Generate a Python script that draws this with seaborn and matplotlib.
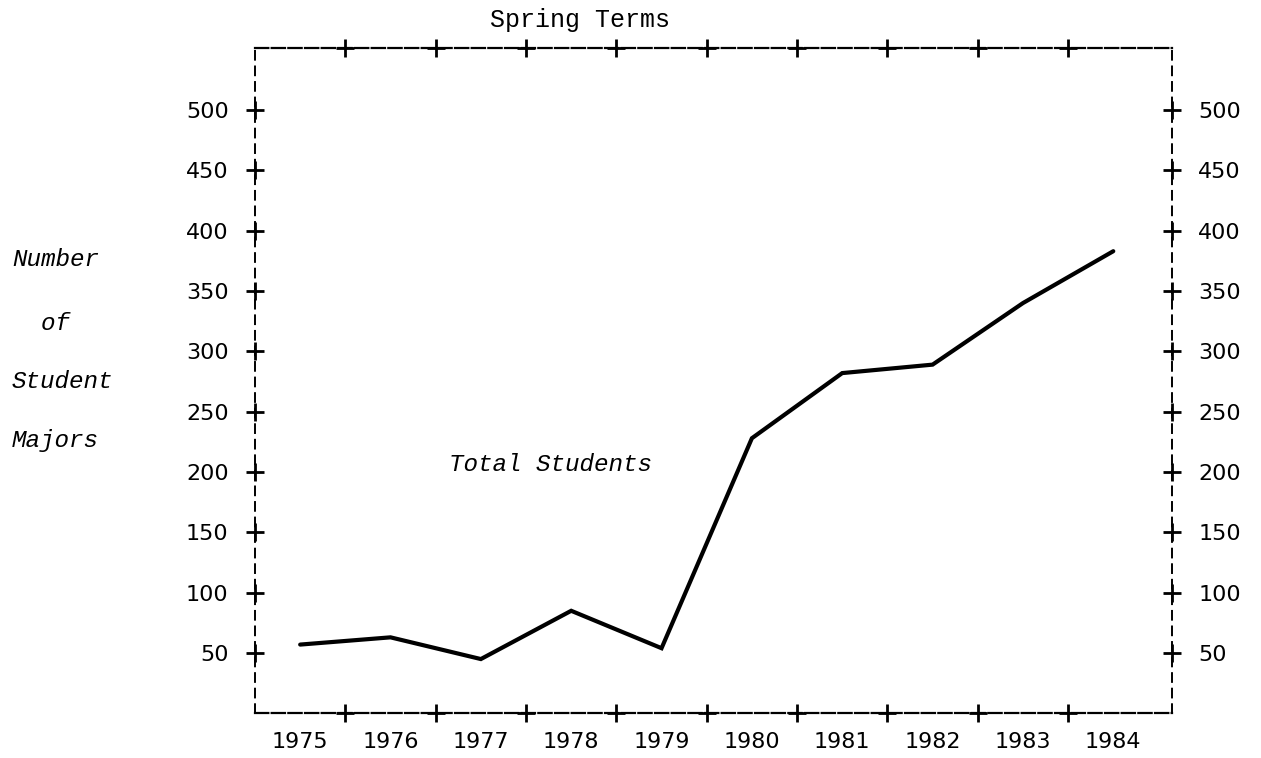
import matplotlib
matplotlib.use("Agg")
import matplotlib.pyplot as plt
import seaborn as sns
import numpy as np
import pandas as pd

# ---- data ----
years = [1975, 1976, 1977, 1978, 1979, 1980, 1981, 1982, 1983, 1984]
total_students = [57, 63, 45, 85, 54, 228, 282, 289, 340, 383]
y_ticks = [50, 100, 150, 200, 250, 300, 350, 400, 450, 500]
x_dividers = [1975.5, 1976.5, 1977.5, 1978.5, 1979.5, 1980.5, 1981.5, 1982.5, 1983.5]
title_text = "Spring Terms"
ylabel_lines = ["Number", "  of", "Student", "Majors"]
series_label = "Total Students"

sns.set_style("white")
plt.rcParams["font.family"] = ["DejaVu Sans"]
plt.rcParams["text.color"] = "black"
plt.rcParams["xtick.color"] = "black"
plt.rcParams["ytick.color"] = "black"
plt.rcParams["xtick.labelcolor"] = "black"
plt.rcParams["ytick.labelcolor"] = "black"

W, H = 1261, 758
fig = plt.figure(figsize=(W / 100, H / 100), dpi=100)
ax = fig.add_axes([255 / W, 1 - 713 / H, 917 / W, 665 / H])

df = pd.DataFrame({"year": years, "students": total_students})
sns.lineplot(data=df, x="year", y="students", ax=ax, color="black",
             linewidth=3.0, solid_joinstyle="miter")

ax.set_xlim(1974.5, 1984.65)
ax.set_ylim(0.3, 551.4)
ax.set_xlabel("")
ax.set_ylabel("")

# dashed frame
for side in ["top", "bottom"]:
    ax.spines[side].set_visible(True)
    ax.spines[side].set_linewidth(1.6)
    ax.spines[side].set_linestyle((0, (6, 1.5)))
    ax.spines[side].set_color("black")
for side in ["left", "right"]:
    ax.spines[side].set_visible(True)
    ax.spines[side].set_linewidth(1.4)
    ax.spines[side].set_linestyle((0, (4.5, 3.5)))
    ax.spines[side].set_color("black")

# ticks and labels
ax.set_xticks(years)
ax.set_xticklabels([str(y) for y in years])
ax.set_yticks(y_ticks)
ax.set_yticklabels([str(v) for v in y_ticks])
ax.tick_params(axis="x", length=0, pad=14, labelsize=16, labelcolor="black")
ax.tick_params(axis="y", length=0, pad=19, labelsize=16, labelcolor="black",
               left=True, right=True, labelleft=True, labelright=True)

# '+' marks on frame
pk = dict(marker="+", ls="none", ms=13, mew=2, color="black", clip_on=False)
ax.plot(x_dividers, [0] * len(x_dividers), transform=ax.get_xaxis_transform(), **pk)
ax.plot(x_dividers, [1] * len(x_dividers), transform=ax.get_xaxis_transform(), **pk)
ax.plot([0] * len(y_ticks), y_ticks, transform=ax.get_yaxis_transform(), **pk)
ax.plot([1] * len(y_ticks), y_ticks, transform=ax.get_yaxis_transform(), **pk)

mono = "Liberation Mono"
fig.text(490 / W, 1 - 20 / H, title_text, family=mono, fontsize=18,
         ha="left", va="center", color="black")

ylab_y = [259, 323, 382, 440]
for txt, yy in zip(ylabel_lines, ylab_y):
    fig.text(12 / W, 1 - yy / H, txt, family=mono, style="italic",
             fontsize=17.5, ha="left", va="center", color="black")

ax.text(1977.77, 206, series_label, family=mono, style="italic",
        fontsize=17.5, ha="center", va="center", color="black")

fig.savefig("out.png", dpi=100)
